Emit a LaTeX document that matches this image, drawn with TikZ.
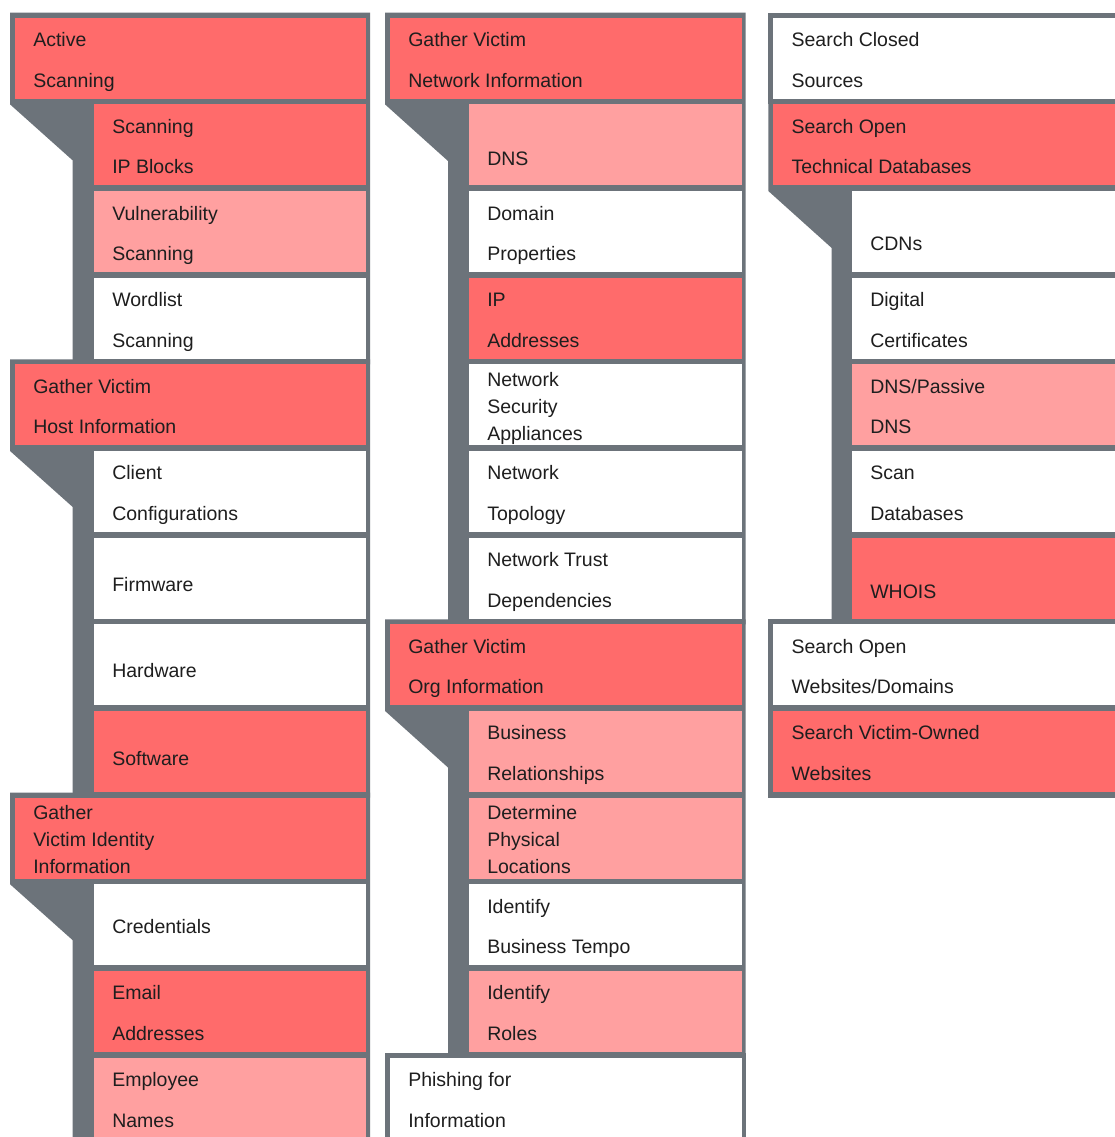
\documentclass[tikz,border=0pt]{standalone}
\usepackage{fontspec}
\setmainfont{Liberation Sans}
\usetikzlibrary{calc}
\definecolor{gframe}{HTML}{6C737A}
\definecolor{cred}{HTML}{FF6B6B}
\definecolor{cpink}{HTML}{FFA0A0}
\definecolor{ctext}{HTML}{1E1E1E}
\newcommand\mytwo[3]{%
  \node[lbl] (#1a) at ($(#1.north west)+(18.3,29)$) {#2};
  \node[lbl] (#1b) at ($(#1.north west)+(18.3,69.6)$) {#3};}
\newcommand\myone[3]{%
  \node[lbl] (#1a) at ($(#1.north west)+(18.3,#2)$) {#3};}
\newcommand\mythree[4]{%
  \node[lbl] (#1a) at ($(#1.north west)+(18.3,22)$) {#2};
  \node[lbl] (#1b) at ($(#1.north west)+(18.3,49)$) {#3};
  \node[lbl] (#1c) at ($(#1.north west)+(18.3,76)$) {#4};}
\begin{document}
\begin{tikzpicture}[x=1pt,y=-1pt,
  box/.style={anchor=north west, inner sep=0pt, outer sep=0pt, minimum height=81pt, draw=none},
  hA/.style={box, minimum width=351pt},
  sA/.style={box, minimum width=272pt},
  hB/.style={box, minimum width=351.5pt},
  sB/.style={box, minimum width=272.5pt},
  hC/.style={box, minimum width=380pt},
  sC/.style={box, minimum width=300pt},
  fred/.style={fill=cred},
  fpink/.style={fill=cpink},
  fwhite/.style={fill=white},
  frame/.style={fill=gframe, draw=none},
  lbl/.style={anchor=base west, inner sep=0pt, outer sep=0pt, text=ctext, font=\fontsize{19.5}{23}\selectfont}]
\useasboundingbox (0,0) rectangle (1115,1137);
\clip (0,0) rectangle (1115,1137);
\fill[white] (0,0) rectangle (1115,1137);

% ---------- grey frames ----------
% column 1
\path[frame] (10,12.7) -- (370,12.7) -- (370,364.3) -- (72.7,364.3) -- (72.7,160.4) -- (10,104.35) -- cycle;
\path[frame] (10,359.3) -- (370,359.3) -- (370,797.55) -- (72.7,797.55) -- (72.7,507) -- (10,450.95) -- cycle;
\path[frame] (10,792.55) -- (370,792.55) -- (370,1150) -- (72.7,1150) -- (72.7,940.2) -- (10,884.2) -- cycle;
% column 2
\path[frame] (385,12.7) -- (745.7,12.7) -- (745.7,624.25) -- (448,624.25) -- (448,161) -- (385,104.35) -- cycle;
\path[frame] (385,619.25) -- (745.7,619.25) -- (745.7,1057.5) -- (448,1057.5) -- (448,767.5) -- (385,710.9) -- cycle;
\path[frame] (385,1052.5) rectangle (745.7,1150);
% column 3
\path[frame] (768.3,12.7) rectangle (1150,104.35);
\path[frame] (768.3,99.35) -- (1150,99.35) -- (1150,624.25) -- (831.7,624.25) -- (831.7,248) -- (768.3,191) -- cycle;
\path[frame] (768.3,619.25) rectangle (1150,710.9);
\path[frame] (768.3,705.9) rectangle (1150,797.55);

% ---------- column 1 ----------
\node[hA, fred]   (a0)  at (15,17.7)    {};
\node[sA, fred]   (a1)  at (94,104.35)  {};
\node[sA, fpink]  (a2)  at (94,191)     {};
\node[sA, fwhite] (a3)  at (94,277.65)  {};
\node[hA, fred]   (a4)  at (15,364.3)   {};
\node[sA, fwhite] (a5)  at (94,450.95)  {};
\node[sA, fwhite] (a6)  at (94,537.6)   {};
\node[sA, fwhite] (a7)  at (94,624.25)  {};
\node[sA, fred]   (a8)  at (94,710.9)   {};
\node[hA, fred]   (a9)  at (15,797.55)  {};
\node[sA, fwhite] (a10) at (94,884.2)   {};
\node[sA, fred]   (a11) at (94,970.85)  {};
\node[sA, fpink]  (a12) at (94,1057.5)  {};

\mytwo{a0}{Active}{Scanning}
\mytwo{a1}{Scanning}{IP Blocks}
\mytwo{a2}{Vulnerability}{Scanning}
\mytwo{a3}{Wordlist}{Scanning}
\mytwo{a4}{Gather Victim}{Host Information}
\mytwo{a5}{Client}{Configurations}
\myone{a6}{54.1}{Firmware}
\myone{a7}{53.45}{Hardware}
\myone{a8}{54.1}{Software}
\mythree{a9}{Gather}{Victim Identity}{Information}
\myone{a10}{49.3}{Credentials}
\mytwo{a11}{Email}{Addresses}
\mytwo{a12}{Employee}{Names}

% ---------- column 2 ----------
\node[hB, fred]   (b0)  at (390,17.7)    {};
\node[sB, fpink]  (b1)  at (469,104.35)  {};
\node[sB, fwhite] (b2)  at (469,191)     {};
\node[sB, fred]   (b3)  at (469,277.65)  {};
\node[sB, fwhite] (b4)  at (469,364.3)   {};
\node[sB, fwhite] (b5)  at (469,450.95)  {};
\node[sB, fwhite] (b6)  at (469,537.6)   {};
\node[hB, fred]   (b7)  at (390,624.25)  {};
\node[sB, fpink]  (b8)  at (469,710.9)   {};
\node[sB, fpink]  (b9)  at (469,797.55)  {};
\node[sB, fwhite] (b10) at (469,884.2)   {};
\node[sB, fpink]  (b11) at (469,970.85)  {};
\node[hB, fwhite] (b12) at (390,1057.5)  {};

\mytwo{b0}{Gather Victim}{Network Information}
\myone{b1}{60.65}{DNS}
\mytwo{b2}{Domain}{Properties}
\mytwo{b3}{IP}{Addresses}
\mythree{b4}{Network}{Security}{Appliances}
\mytwo{b5}{Network}{Topology}
\mytwo{b6}{Network Trust}{Dependencies}
\mytwo{b7}{Gather Victim}{Org Information}
\mytwo{b8}{Business}{Relationships}
\mythree{b9}{Determine}{Physical}{Locations}
\mytwo{b10}{Identify}{Business Tempo}
\mytwo{b11}{Identify}{Roles}
\mytwo{b12}{Phishing for}{Information}

% ---------- column 3 ----------
\node[hC, fwhite] (c0) at (773.3,17.7)   {};
\node[hC, fred]   (c1) at (773.3,104.35) {};
\node[sC, fwhite] (c2) at (852,191)      {};
\node[sC, fwhite] (c3) at (852,277.65)   {};
\node[sC, fpink]  (c4) at (852,364.3)    {};
\node[sC, fwhite] (c5) at (852,450.95)   {};
\node[sC, fred]   (c6) at (852,537.6)    {};
\node[hC, fwhite] (c7) at (773.3,624.25) {};
\node[hC, fred]   (c8) at (773.3,710.9)  {};

\mytwo{c0}{Search Closed}{Sources}
\mytwo{c1}{Search Open}{Technical Databases}
\myone{c2}{59}{CDNs}
\mytwo{c3}{Digital}{Certificates}
\mytwo{c4}{DNS/Passive}{DNS}
\mytwo{c5}{Scan}{Databases}
\myone{c6}{60.7}{WHOIS}
\mytwo{c7}{Search Open}{Websites/Domains}
\mytwo{c8}{Search Victim-Owned}{Websites}
\end{tikzpicture}
\end{document}
